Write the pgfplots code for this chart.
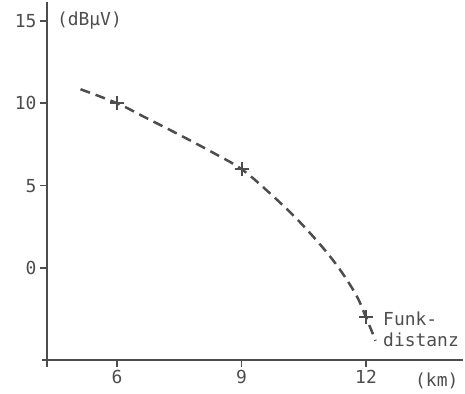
\documentclass[border=0pt]{standalone}
\usepackage{pgfplots}
\pgfplotsset{compat=1.18}
\usepackage{fontspec}
\setmainfont{DejaVu Sans Mono}
\setmonofont{DejaVu Sans Mono}
\definecolor{ink}{HTML}{4d4d4d}
\begin{document}
\begin{tikzpicture}
\begin{axis}[
  scale only axis, width=416bp, height=358bp,
  xmin=4.313, xmax=14.337, ymin=-5.586, ymax=16.15,
  axis lines=left,
  axis line style={-, ink, line width=1.9bp},
  x axis line style={shorten <=-5bp},
  y axis line style={shorten <=-7bp},
  xtick={6,9,12}, ytick={0,5,10,15},
  tick style={ink, line width=1.6bp},
  tick align=outside, major tick length=7bp,
  ticklabel style={font=\fontsize{18}{21}\selectfont, text=ink},
  /pgf/number format/assume math mode=true,
  clip=false,
]
\path (axis cs:3.18,-7.65) rectangle (axis cs:14.385,16.27);
\addplot[ink, line width=2.5bp, dash pattern=on 10bp off 6bp, smooth, tension=0.6]
  coordinates {(5.12,10.85) (6,10) (6.71,9.1) (7.53,8.05) (8.35,6.95) (9,6) (9.62,4.68) (10.4,2.8) (11.18,0.55) (11.73,-1.5) (12,-3) (12.23,-4.42)};
\addplot[ink, only marks, mark=+, mark size=7bp, mark options={line width=2bp, solid}]
  coordinates {(6,10) (9,6) (12,-3)};
\node[anchor=west, inner sep=0pt, text=ink, font=\fontsize{18}{21}\selectfont] at (axis cs:4.55,15) {(dBμV)};
\node[anchor=base west, inner sep=0pt, text=ink, font=\fontsize{18}{21}\selectfont] at (axis cs:12.41,-3.52) {Funk-};
\node[anchor=base west, inner sep=0pt, text=ink, font=\fontsize{18}{21}\selectfont] at (axis cs:12.41,-4.74) {distanz};
\node[anchor=base west, inner sep=0pt, text=ink, font=\fontsize{18}{21}\selectfont] at (axis cs:13.18,-7.22) {(km)};
\end{axis}
\end{tikzpicture}
\end{document}
